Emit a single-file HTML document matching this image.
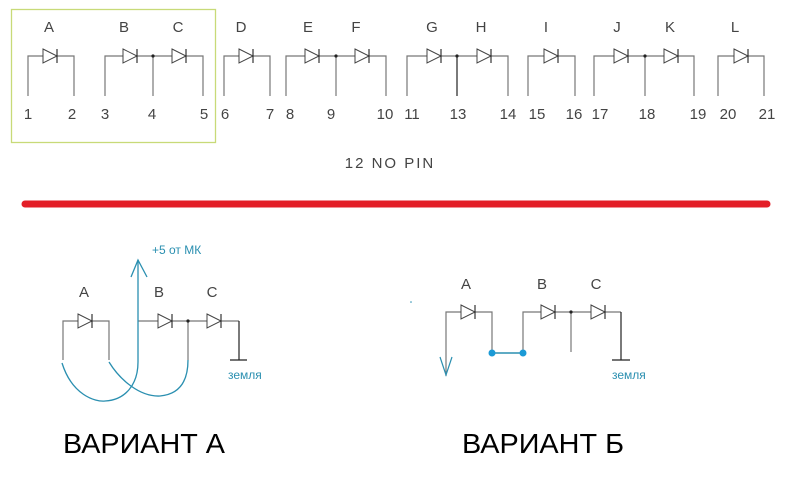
<!DOCTYPE html>
<html><head><meta charset="utf-8"><style>
html,body{margin:0;padding:0;background:#fff;width:791px;height:479px;overflow:hidden}
svg{display:block}
text{font-family:"Liberation Sans",sans-serif}
</style></head><body>
<svg width="791" height="479" viewBox="0 0 791 479" xmlns="http://www.w3.org/2000/svg">
<defs>
<g id="d"><polygon points="0,-7 14,0 0,7" fill="#fff" stroke="#444" stroke-width="1"/><line x1="14" y1="-7" x2="14" y2="7" stroke="#333" stroke-width="1.2"/></g>
</defs>
<rect x="11.5" y="9.5" width="204" height="133" fill="none" stroke="#c8da78" stroke-width="1.3"/>
<g fill="none" stroke="#777" stroke-width="1.2">
<polyline points="28,96 28,56 74,56 74,96"/>
<polyline points="105,96 105,56 203,56 203,96"/>
<line x1="153" y1="56" x2="153" y2="96"/>
<polyline points="224,96 224,56 270,56 270,96"/>
<polyline points="286,96 286,56 386,56 386,96"/>
<line x1="336" y1="56" x2="336" y2="96"/>
<polyline points="407,96 407,56 508,56 508,96"/>
<line x1="457" y1="56" x2="457" y2="96" stroke="#222"/>
<polyline points="528,96 528,56 575,56 575,96"/>
<polyline points="594,96 594,56 694,56 694,96"/>
<line x1="645" y1="56" x2="645" y2="96"/>
<polyline points="718,96 718,56 764,56 764,96"/>
</g>
<g fill="#222"><circle cx="153" cy="56" r="1.6"/><circle cx="336" cy="56" r="1.6"/><circle cx="457" cy="56" r="1.6"/><circle cx="645" cy="56" r="1.6"/></g>
<use href="#d" x="43" y="56"/><use href="#d" x="123" y="56"/><use href="#d" x="172" y="56"/>
<use href="#d" x="239" y="56"/><use href="#d" x="305" y="56"/><use href="#d" x="355" y="56"/>
<use href="#d" x="427" y="56"/><use href="#d" x="477" y="56"/><use href="#d" x="544" y="56"/>
<use href="#d" x="614" y="56"/><use href="#d" x="664" y="56"/><use href="#d" x="734" y="56"/>
<g font-size="15" fill="#444" text-anchor="middle">
<text x="49" y="32">A</text><text x="124" y="32">B</text><text x="178" y="32">C</text>
<text x="241" y="32">D</text><text x="308" y="32">E</text><text x="356" y="32">F</text>
<text x="432" y="32">G</text><text x="481" y="32">H</text><text x="546" y="32">I</text>
<text x="617" y="32">J</text><text x="670" y="32">K</text><text x="735" y="32">L</text>
<text x="28" y="119">1</text><text x="72" y="119">2</text><text x="105" y="119">3</text>
<text x="152" y="119">4</text><text x="204" y="119">5</text><text x="225" y="119">6</text>
<text x="270" y="119">7</text><text x="290" y="119">8</text><text x="331" y="119">9</text>
<text x="385" y="119">10</text><text x="412" y="119">11</text><text x="458" y="119">13</text>
<text x="508" y="119">14</text><text x="537" y="119">15</text><text x="574" y="119">16</text>
<text x="600" y="119">17</text><text x="647" y="119">18</text><text x="698" y="119">19</text>
<text x="728" y="119">20</text><text x="767" y="119">21</text>
<text x="390" y="168" letter-spacing="2">12  NO  PIN</text>
</g>
<line x1="25" y1="204" x2="767" y2="204" stroke="#e31e27" stroke-width="7" stroke-linecap="round"/>

<g fill="none" stroke="#777" stroke-width="1.2">
<polyline points="63,360 63,321 109,321 109,360"/>
<polyline points="138,321 239,321"/>
<line x1="188" y1="321" x2="188" y2="360"/>
<line x1="239" y1="321" x2="239" y2="360" stroke="#222"/>
<line x1="230" y1="360" x2="247" y2="360" stroke="#222"/>
</g>
<circle cx="188" cy="321" r="1.6" fill="#222"/>
<use href="#d" x="78" y="321"/><use href="#d" x="158" y="321"/><use href="#d" x="207" y="321"/>
<g fill="none" stroke="#2a8fb0" stroke-width="1.3">
<line x1="138" y1="260" x2="138" y2="362"/>
<polyline points="131,277 138,260 147,277"/>
<path d="M62,363 C72,395 95,402 105,401 C125,400 138,385 138,362"/>
<path d="M109,362 C120,380 140,397 160,396 C182,394 188,378 188,360"/>
</g>
<text x="152" y="254" font-size="12" fill="#2a8fb0">+5 от МК</text>
<text x="228" y="379" font-size="12" fill="#2a8fb0">земля</text>
<g font-size="15" fill="#444" text-anchor="middle">
<text x="84" y="297">A</text><text x="159" y="297">B</text><text x="212" y="297">C</text>
<text x="466" y="289">A</text><text x="542" y="289">B</text><text x="596" y="289">C</text>
</g>

<g fill="none" stroke="#777" stroke-width="1.2">
<polyline points="446,376 446,312 492,312 492,353"/>
<polyline points="523,353 523,312 621,312"/>
<line x1="571" y1="312" x2="571" y2="352"/>
<line x1="621" y1="312" x2="621" y2="360" stroke="#222"/>
<line x1="612" y1="360" x2="630" y2="360" stroke="#222"/>
</g>
<circle cx="571" cy="312" r="1.6" fill="#222"/>
<use href="#d" x="461" y="312"/><use href="#d" x="541" y="312"/><use href="#d" x="591" y="312"/>
<polyline points="440,357 446,375 452,357" fill="none" stroke="#2a8fb0" stroke-width="1.2"/>
<line x1="492" y1="353" x2="523" y2="353" stroke="#2a8fb0" stroke-width="1.5"/>
<circle cx="492" cy="353" r="3.5" fill="#1b9ad6"/><circle cx="523" cy="353" r="3.5" fill="#1b9ad6"/>
<circle cx="411" cy="302" r="0.8" fill="#2a8fb0"/>
<text x="612" y="379" font-size="12" fill="#2a8fb0">земля</text>

<text x="63" y="453" font-size="28" fill="#000" textLength="162" lengthAdjust="spacingAndGlyphs">ВАРИАНТ А</text>
<text x="462" y="453" font-size="28" fill="#000" textLength="162" lengthAdjust="spacingAndGlyphs">ВАРИАНТ Б</text>
</svg>
</body></html>
